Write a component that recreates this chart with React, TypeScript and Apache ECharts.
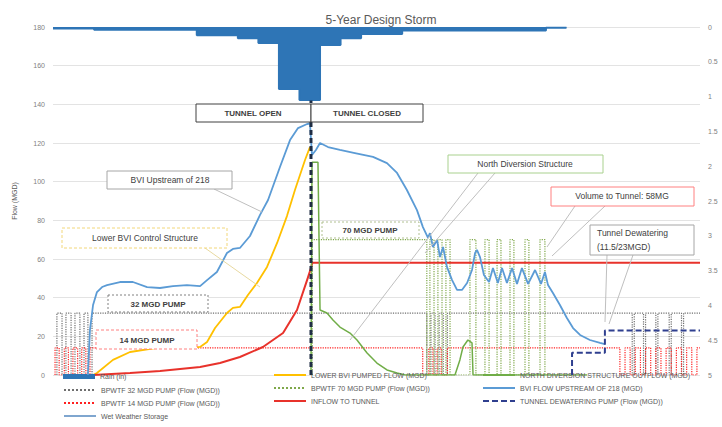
import React, { useEffect, useRef } from 'react';
import * as echarts from 'echarts';

// x: hours from start of simulation; flows in MGD; rain in inches
const rain = [[0, 0.02], [2, 0.04], [7, 0.12], [9, 0.16], [10, 0.23], [11, 0.89], [12, 1.05], [13, 0.26], [14, 0.16], [15, 0.1], [17, 0.05], [24, 0.01], [25, 0]];

const bviFlow = [[1.7, 0], [1.8, 23.3], [1.95, 36.2], [2.14, 42.9], [2.39, 45.5], [2.63, 46.5], [3.26, 48.1], [3.89, 48.1], [4.58, 45.5], [5.21, 45.0], [5.84, 46.0], [6.52, 46.5], [7.16, 46.0], [7.5, 49.1], [7.98, 53.3], [8.47, 63.1], [8.76, 65.2], [9.1, 65.7], [9.59, 71.9], [10.08, 82.8], [10.47, 90.5], [11.05, 107.6], [11.54, 121.5], [11.93, 127.7], [12.37, 129.8], [12.51, 130.3], [12.61, 113.8], [12.8, 116.4], [13.0, 120.0], [13.39, 117.9], [13.97, 116.4], [14.7, 114.8], [15.58, 112.8], [16.26, 109.6], [16.75, 104.5], [17.23, 95.7], [17.72, 85.3], [18.01, 76.5], [18.26, 70.9], [18.35, 73.4], [18.5, 66.2], [18.7, 69.8], [18.84, 61.0], [18.99, 66.2], [19.18, 55.9], [19.43, 49.1], [19.67, 44.0], [19.91, 44.0], [20.16, 47.6], [20.4, 54.3], [20.55, 63.1], [20.64, 64.7], [20.79, 61.0], [20.98, 51.7], [21.23, 48.1], [21.42, 55.3], [21.66, 47.6], [21.86, 55.3], [22.1, 47.6], [22.35, 55.3], [22.59, 47.1], [22.83, 55.3], [23.13, 47.1], [23.47, 54.3], [23.76, 47.1], [23.95, 53.3], [24.1, 46.5], [24.34, 42.4], [24.68, 36.2], [25.02, 29.5], [25.32, 24.3], [25.66, 20.7], [26.14, 18.1], [26.63, 16.6], [26.87, 16.0]];

const lowerBviPumped = [[1.95, 0], [2.14, 1.0], [2.92, 7.8], [3.75, 11.9], [5.06, 14.0], [6.18, 14.0], [7.16, 14.5], [7.5, 17.1], [7.89, 24.3], [8.47, 32.1], [8.76, 34.7], [9.1, 35.2], [9.49, 41.4], [9.93, 47.6], [10.42, 55.9], [10.91, 68.3], [11.39, 82.2], [11.78, 95.7], [12.27, 111.2], [12.51, 117.9]];

const inflowToTunnel = [[1.95, 0], [3.75, 1.0], [5.21, 2.1], [7.16, 4.1], [8.13, 6.2], [9.1, 9.3], [10.22, 14.5], [11.2, 21.7], [11.88, 33.6], [12.37, 49.1], [12.56, 55.3], [12.62, 58], [31.5, 58]];

const northDiversion = [[12.56, 0], [12.61, 110], [12.9, 110], [13.0, 33.6], [13.34, 32.1], [13.63, 28.4], [13.97, 24.8], [14.46, 21.7], [14.8, 18.1], [15.29, 11.4], [15.77, 6.2], [16.26, 2.6], [16.75, 1.0], [17.14, 0], [19.57, 0], [19.81, 7.8], [19.96, 14.5], [20.2, 18.1], [20.4, 16.6], [20.45, 0], [26.0, 0]];

const pump70 = [[12.62, 0], [12.62, 70], [18.2, 70], [18.2, 0], [18.35, 0], [18.35, 70], [18.55, 70], [18.55, 0], [18.74, 0], [18.74, 70], [18.94, 70], [18.94, 0], [19.13, 0], [19.13, 70], [19.33, 70], [19.33, 0], [20.3, 0], [20.3, 70], [20.59, 70], [20.59, 0], [21.03, 0], [21.03, 70], [21.23, 70], [21.23, 0], [21.62, 0], [21.62, 70], [21.81, 70], [21.81, 0], [22.25, 0], [22.25, 70], [22.44, 70], [22.44, 0], [22.98, 0], [22.98, 70], [23.17, 70], [23.17, 0], [23.71, 0], [23.71, 70], [23.95, 70], [23.95, 0]];

const pump32 = [[0.19, 0], [0.19, 32], [0.44, 32], [0.44, 0], [0.63, 0], [0.63, 32], [0.88, 32], [0.88, 0], [1.07, 0], [1.07, 32], [1.31, 32], [1.31, 0], [1.51, 0], [1.51, 32], [1.7, 32], [1.7, 0], [1.9, 0], [1.9, 32], [18.2, 32], [18.2, 0], [18.4, 0], [18.4, 32], [18.6, 32], [18.6, 0], [18.8, 0], [18.8, 32], [19.0, 32], [19.0, 0], [19.2, 0], [19.2, 32], [28.2, 32], [28.2, 0], [28.3, 0], [28.3, 32], [28.75, 32], [28.75, 0], [28.85, 0], [28.85, 32], [29.35, 32], [29.35, 0], [29.45, 0], [29.45, 32], [30.0, 32], [30.0, 0], [30.1, 0], [30.1, 32], [30.6, 32], [30.6, 0], [30.7, 0], [30.7, 32], [31.5, 32]];

const pump14 = [[0.1, 0], [0.1, 14], [0.3, 14], [0.3, 0], [0.55, 0], [0.55, 14], [0.75, 14], [0.75, 0], [0.97, 0], [0.97, 14], [1.2, 14], [1.2, 0], [1.4, 0], [1.4, 14], [1.6, 14], [1.6, 0], [1.8, 0], [1.8, 14], [18.0, 14], [18.0, 0], [18.3, 0], [18.3, 14], [18.5, 14], [18.5, 0], [18.7, 0], [18.7, 14], [18.9, 14], [18.9, 0], [19.2, 0], [19.2, 14], [27.6, 14], [27.6, 0], [27.85, 0], [27.85, 14], [28.1, 14], [28.1, 0], [28.35, 0], [28.35, 14], [28.6, 14], [28.6, 0], [28.85, 0], [28.85, 14], [29.1, 14], [29.1, 0], [29.35, 0], [29.35, 14], [29.6, 14], [29.6, 0], [29.85, 0], [29.85, 14], [30.1, 14], [30.1, 0], [30.35, 0], [30.35, 14], [30.6, 14], [30.6, 0], [30.85, 0], [30.85, 14], [31.1, 14], [31.1, 0], [31.35, 0], [31.35, 14], [31.5, 14]];

const dewatering = [[25.27, 0], [25.27, 11.5], [26.87, 11.5], [26.87, 23], [31.5, 23]];

const tunnelSwitch = [[12.56, 0], [12.56, 142]];

const names = {
  rain: 'Rain (in)',
  p32: 'BPWTF 32 MGD PUMP (Flow (MGD))',
  p14: 'BPWTF 14 MGD PUMP (Flow (MGD))',
  wws: 'Wet Weather Storage',
  lower: 'LOWER BVI PUMPED FLOW (MGD)',
  p70: 'BPWTF 70 MGD PUMP (Flow (MGD))',
  inflow: 'INFLOW TO TUNNEL',
  north: 'NORTH DIVERSION STRUCTURE OUTFLOW (MGD)',
  bvi: 'BVI FLOW UPSTREAM OF 218 (MGD)',
  dewater: 'TUNNEL DEWATERING PUMP (Flow (MGD))',
};

const FONT = 'Liberation Sans, Arial, sans-serif';

function box(x: number, y: number, w: number, h: number, stroke: string, dash: number[] | null) {
  return { type: 'rect', z: 100, shape: { x, y, width: w, height: h }, style: { fill: '#ffffff', stroke, lineWidth: 1, lineDash: dash || undefined } };
}
function label(x: number, y: number, text: string, size: number, bold: boolean, align = 'center') {
  return { type: 'text', z: 101, x, y, style: { text, fill: '#404040', fontSize: size, fontFamily: FONT, fontWeight: bold ? 'bold' : 'normal', align, verticalAlign: 'middle' } };
}
function leader(x1: number, y1: number, x2: number, y2: number, stroke = '#BFBFBF') {
  return { type: 'line', z: 99, shape: { x1, y1, x2, y2 }, style: { stroke, lineWidth: 1 } };
}

const legendText = { fontSize: 7, color: '#595959', fontFamily: FONT };
const lineLegend = { orient: 'vertical', itemWidth: 32, itemHeight: 10, itemGap: 5, padding: 0, selectedMode: false, textStyle: legendText, itemStyle: { opacity: 0, borderWidth: 0 } };

export default function App() {
  const ref = useRef<HTMLDivElement>(null);
  useEffect(() => {
    const chart = echarts.init(ref.current!, null, { renderer: 'svg' });
    const lineBase = { type: 'line', showSymbol: false, symbol: 'none', yAxisIndex: 0 };
    chart.setOption({
      animation: false,
      backgroundColor: '#ffffff',
      title: {
        text: '5-Year Design Storm', left: 376, top: 9, textAlign: 'center',
        textStyle: { fontSize: 12, fontWeight: 'normal', color: '#595959', fontFamily: FONT },
      },
      grid: { left: 53, right: 22, top: 27, bottom: 52 },
      xAxis: { type: 'value', min: 0, max: 31.5, show: false },
      yAxis: [
        {
          type: 'value', min: 0, max: 180, interval: 20,
          name: 'Flow (MGD)', nameLocation: 'middle', nameGap: 35,
          nameTextStyle: { fontSize: 7, color: '#595959', fontFamily: FONT },
          axisLine: { show: false }, axisTick: { show: false },
          axisLabel: { fontSize: 7, color: '#7F7F7F', fontFamily: FONT, margin: 8 },
          splitLine: { lineStyle: { color: '#E3E3E3', width: 1 } },
        },
        {
          type: 'value', min: 0, max: 5, interval: 0.5, inverse: true, position: 'right',
          axisLine: { show: false }, axisTick: { show: false }, splitLine: { show: false },
          axisLabel: { fontSize: 7, color: '#7F7F7F', fontFamily: FONT, margin: 8 },
        },
      ],
      legend: [
        { data: [{ name: names.rain, icon: 'rect' }], left: 63, top: 373, itemWidth: 32, itemHeight: 5, padding: 0, selectedMode: false, textStyle: legendText },
        { ...lineLegend, data: [names.p32, names.p14, names.wws], left: 63, top: 386 },
        { ...lineLegend, data: [names.lower, names.p70, names.inflow], left: 273, top: 371 },
        { ...lineLegend, data: [names.north, names.bvi, names.dewater], left: 482, top: 371 },
      ],
      series: [
        {
          name: names.rain, type: 'line', yAxisIndex: 1, step: 'end', showSymbol: false, symbol: 'none', data: rain,
          color: '#2E75B6', lineStyle: { color: '#2E75B6', width: 2 }, areaStyle: { color: '#2E75B6', opacity: 1 }, z: 1,
        },
        { ...lineBase, name: names.p32, data: pump32, color: '#6F6F6F', lineStyle: { color: '#6F6F6F', width: 1.2, type: 'dotted' }, z: 2 },
        { ...lineBase, name: names.p14, data: pump14, color: '#FF2020', lineStyle: { color: '#FF2020', width: 1.2, type: 'dotted' }, z: 2 },
        { ...lineBase, name: names.p70, data: pump70, color: '#7FA84A', lineStyle: { color: '#7FA84A', width: 1.2, type: 'dotted' }, z: 2 },
        { ...lineBase, name: names.wws, data: [], color: '#7FA6CF', lineStyle: { color: '#7FA6CF', width: 2 } },
        { ...lineBase, name: names.lower, data: lowerBviPumped, color: '#FFC000', lineStyle: { color: '#FFC000', width: 1.8 }, z: 3 },
        { ...lineBase, name: names.inflow, data: inflowToTunnel, color: '#E8322B', lineStyle: { color: '#E8322B', width: 2 }, z: 3 },
        { ...lineBase, name: names.north, data: northDiversion, color: '#70AD47', lineStyle: { color: '#70AD47', width: 1.5 }, z: 3 },
        { ...lineBase, name: names.bvi, data: bviFlow, color: '#5B9BD5', lineStyle: { color: '#5B9BD5', width: 1.8 }, z: 4 },
        { ...lineBase, name: names.dewater, data: dewatering, color: '#2F3F8F', lineStyle: { color: '#2F3F8F', width: 2, type: [6, 3] }, z: 4 },
        { ...lineBase, name: 'Tunnel open/closed', data: tunnelSwitch, color: '#1F2D44', lineStyle: { color: '#1F2D44', width: 3, type: [5, 3] }, z: 5 },
      ],
      graphic: [
        leader(214, 189, 262, 212),
        leader(205, 248, 260, 287, '#E8D9A0'),
        leader(478, 173, 350, 340),
        leader(495, 173, 425, 253),
        leader(575, 206, 547, 247),
        leader(605, 206, 552, 256),
        leader(607, 255, 605, 322),
        leader(633, 255, 609, 324),
        box(196, 104, 115, 18, '#404040', null), label(253, 113, 'TUNNEL OPEN', 8, true),
        box(311, 104, 112, 18, '#404040', null), label(367, 113, 'TUNNEL CLOSED', 8, true),
        box(107, 171, 125, 18, '#A6A6A6', null), label(170, 180, 'BVI Upstream of 218', 8.5, false),
        box(62, 228, 165, 20, '#F2D77A', [3, 2]), label(145, 238, 'Lower BVI Control Structure', 8.5, false),
        box(108, 295, 100, 17, '#808080', [2, 2]), label(158, 304, '32 MGD PUMP', 8, true),
        box(96, 330, 101, 19, '#FF8080', [3, 2]), label(147, 340, '14 MGD PUMP', 8, true),
        box(322, 222, 97, 16, '#B0C090', [2, 2]), label(370, 230, '70 MGD PUMP', 8, true),
        box(448, 155, 155, 18, '#A9D18E', null), label(525, 164, 'North Diversion Structure', 8.5, false),
        box(551, 187, 143, 19, '#FF8080', null), label(622, 196, 'Volume to Tunnel: 58MG', 8.5, false),
        box(590, 225, 104, 30, '#A6A6A6', null), label(597, 233, 'Tunnel Dewatering', 8.5, false, 'left'), label(597, 247, '(11.5/23MGD)', 8.5, false, 'left'),
      ],
    });
    return () => chart.dispose();
  }, []);
  return <div ref={ref} style={{ position: 'absolute', left: 0, top: 0, width: 722, height: 427 }} />;
}
